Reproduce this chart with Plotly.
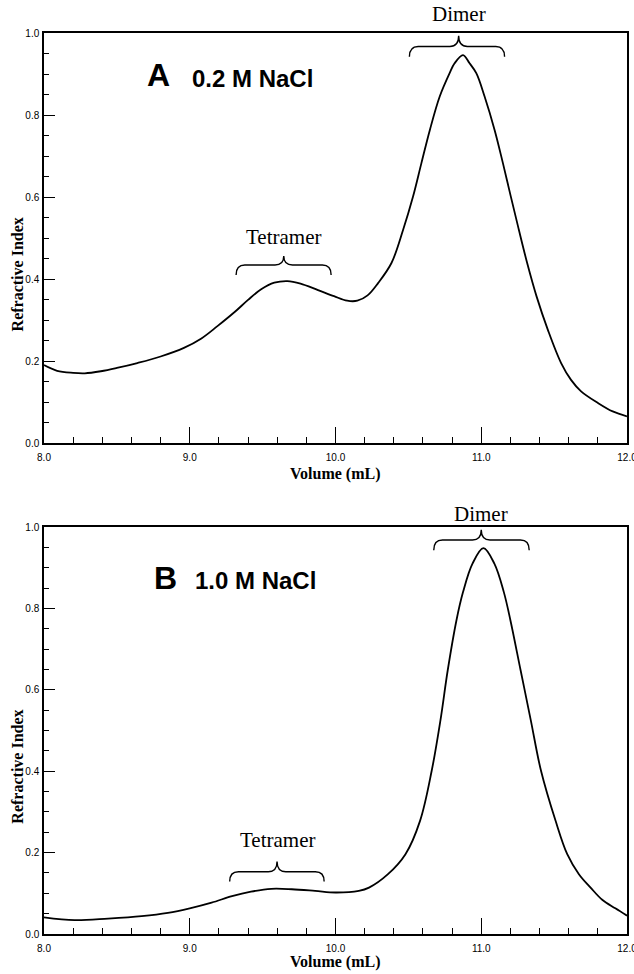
import plotly.graph_objects as go

# ---------------- data ----------------
vol_a = [8.00, 8.09, 8.20, 8.28, 8.39, 8.50, 8.64, 8.80, 8.96, 9.08, 9.19, 9.31, 9.40,
         9.49, 9.58, 9.67, 9.76, 9.88, 9.99, 10.08, 10.15, 10.22, 10.292, 10.384, 10.464,
         10.532, 10.589, 10.647, 10.715, 10.783, 10.817, 10.875, 10.92, 10.966, 11.023,
         11.092, 11.149, 11.203, 11.258, 11.315, 11.38, 11.457, 11.548, 11.616, 11.685,
         11.799, 11.902, 12.00]
ri_a = [0.190, 0.176, 0.171, 0.170, 0.175, 0.183, 0.195, 0.211, 0.232, 0.255, 0.285,
        0.320, 0.349, 0.375, 0.391, 0.395, 0.389, 0.373, 0.358, 0.347, 0.347, 0.360,
        0.390, 0.439, 0.520, 0.601, 0.682, 0.763, 0.845, 0.902, 0.926, 0.946, 0.926,
        0.902, 0.845, 0.763, 0.682, 0.601, 0.520, 0.439, 0.357, 0.276, 0.195, 0.154,
        0.126, 0.098, 0.077, 0.065]

vol_b = [8.00, 8.21, 8.44, 8.67, 8.85, 9.00, 9.15, 9.29, 9.42, 9.56, 9.70, 9.86, 10.00,
         10.16, 10.23, 10.36, 10.48, 10.58, 10.66, 10.72, 10.77, 10.83, 10.875, 10.94,
         11.015, 11.09, 11.155, 11.20, 11.27, 11.34, 11.41, 11.51, 11.59, 11.67, 11.75,
         11.83, 11.92, 12.00]
ri_b = [0.041, 0.034, 0.038, 0.044, 0.052, 0.063, 0.077, 0.093, 0.104, 0.111, 0.110,
        0.106, 0.102, 0.106, 0.114, 0.147, 0.196, 0.278, 0.401, 0.525, 0.648, 0.771,
        0.840, 0.910, 0.948, 0.910, 0.840, 0.771, 0.648, 0.525, 0.401, 0.278, 0.196,
        0.147, 0.114, 0.084, 0.063, 0.045]

x_tick_vals = [8.0, 9.0, 10.0, 11.0, 12.0]
x_tick_text = ["8.0", "9.0", "10.0", "11.0", "12.0"]
y_tick_vals = [0.0, 0.2, 0.4, 0.6, 0.8, 1.0]
y_tick_text = ["0.0", "0.2", "0.4", "0.6", "0.8", "1.0"]

panel_letters = ["A", "B"]
panel_salts = ["0.2 M NaCl", "1.0 M NaCl"]
peak_names = ["Tetramer", "Dimer"]

# brace spans: (left, right, tip) in mL and (end, bar, cusp) levels
braces_a = [(9.318, 9.970, 9.645, 0.410, 0.434, 0.456),
            (10.507, 11.160, 10.845, 0.942, 0.967, 0.993)]
braces_b = [(9.274, 9.922, 9.599, 0.129, 0.153, 0.178),
            (10.674, 11.329, 11.000, 0.943, 0.968, 0.993)]
label_y_a = [0.502, 1.046]
label_y_b = [0.231, 1.032]

# ---------------- figure ----------------
W, H = 634, 974
xdom = [44 / W, 627 / W]
ydom_a = [1 - 443 / H, 1 - 33 / H]
ydom_b = [1 - 934 / H, 1 - 527 / H]

TICKF = dict(family="Liberation Sans, Arial", size=10, color="black")
SERIF = "Liberation Serif, Times New Roman"


def xaxis(dom, anchor):
    return dict(domain=dom, anchor=anchor, range=[8, 12], tickmode="array",
                tickvals=x_tick_vals, ticktext=x_tick_text, ticks="inside",
                ticklen=16, tickwidth=1.3, tickcolor="black", showline=True,
                linewidth=1.5, linecolor="black", mirror=True, showgrid=False,
                zeroline=False, tickfont=TICKF, ticklabelstandoff=4,
                ticklabeloverflow="allow",
                minor=dict(tick0=8, dtick=0.2, ticks="inside", ticklen=6,
                           tickwidth=1.2, tickcolor="black", showgrid=False),
                automargin=False, fixedrange=True)


def yaxis(dom, anchor):
    return dict(domain=dom, anchor=anchor, range=[0, 1], tickmode="array",
                tickvals=y_tick_vals, ticktext=y_tick_text, ticks="inside",
                ticklen=11, tickwidth=1.3, tickcolor="black", showline=True,
                linewidth=1.5, linecolor="black", mirror=True, showgrid=False,
                zeroline=False, tickfont=TICKF, ticklabelstandoff=1,
                ticklabeloverflow="allow",
                minor=dict(tick0=0, dtick=0.05, ticks="inside", ticklen=5,
                           tickwidth=1.2, tickcolor="black", showgrid=False),
                automargin=False, fixedrange=True)


fig = go.Figure()
fig.add_trace(go.Scatter(x=vol_a, y=ri_a, mode="lines", xaxis="x", yaxis="y",
                         line=dict(color="black", width=1.8, shape="spline",
                                   smoothing=1.0), showlegend=False))
fig.add_trace(go.Scatter(x=vol_b, y=ri_b, mode="lines", xaxis="x2", yaxis="y2",
                         line=dict(color="black", width=1.8, shape="spline",
                                   smoothing=1.0), showlegend=False))


def brace_path(x0, x1, xt, ye, yb, yc, dx=0.06):
    return (f"M {x0},{ye} Q {x0},{yb} {x0 + dx},{yb} L {xt - dx},{yb} "
            f"Q {xt},{yb} {xt},{yc} Q {xt},{yb} {xt + dx},{yb} "
            f"L {x1 - dx},{yb} Q {x1},{yb} {x1},{ye}")


shapes = []
annotations = []
panels = [("x", "y", braces_a, label_y_a, (8.788, 0.898), (9.00, 0.888), 474),
          ("x2", "y2", braces_b, label_y_b, (8.836, 0.875), (9.02, 0.869), 962)]
for i, (xr, yr, braces, label_y, letter_pos, salt_pos, xt_px) in enumerate(panels):
    for j, br in enumerate(braces):
        shapes.append(dict(type="path", xref=xr, yref=yr, path=brace_path(*br),
                           line=dict(color="black", width=1.4)))
        # y range is [0, 1], so a domain fraction equals the data value
        annotations.append(dict(xref=xr, yref=yr + " domain", x=br[2], y=label_y[j],
                                text=peak_names[j], showarrow=False,
                                font=dict(family=SERIF, size=21, color="black"),
                                xanchor="center", yanchor="middle"))
    annotations.append(dict(xref=xr, yref=yr, x=letter_pos[0], y=letter_pos[1],
                            text="<b>%s</b>" % panel_letters[i], showarrow=False,
                            font=dict(family="Liberation Sans, Arial", size=32,
                                      color="black"),
                            xanchor="center", yanchor="middle"))
    annotations.append(dict(xref=xr, yref=yr, x=salt_pos[0], y=salt_pos[1],
                            text="<b>%s</b>" % panel_salts[i], showarrow=False,
                            font=dict(family="Liberation Sans, Arial", size=24,
                                      color="black"),
                            xanchor="left", yanchor="middle"))
    annotations.append(dict(xref=xr + " domain", yref="paper", x=0.5,
                            y=1 - xt_px / H,
                            text="<b>Volume (mL)</b>", showarrow=False,
                            font=dict(family=SERIF, size=16, color="black"),
                            xanchor="center", yanchor="middle"))
    annotations.append(dict(xref="paper", yref=yr + " domain", x=17.5 / W, y=0.41,
                            text="<b>Refractive Index</b>", showarrow=False,
                            textangle=-90,
                            font=dict(family=SERIF, size=16, color="black"),
                            xanchor="center", yanchor="middle"))

fig.update_layout(
    width=W, height=H, margin=dict(l=0, r=0, t=0, b=0),
    paper_bgcolor="white", plot_bgcolor="white",
    xaxis=xaxis(xdom, "y"), yaxis=yaxis(ydom_a, "x"),
    xaxis2=xaxis(xdom, "y2"), yaxis2=yaxis(ydom_b, "x2"),
    shapes=shapes, annotations=annotations, showlegend=False,
)

fig.write_html("out.html", config={"displayModeBar": False},
               post_script="document.body.style.margin='0';"
                           "document.body.style.overflow='hidden';")
